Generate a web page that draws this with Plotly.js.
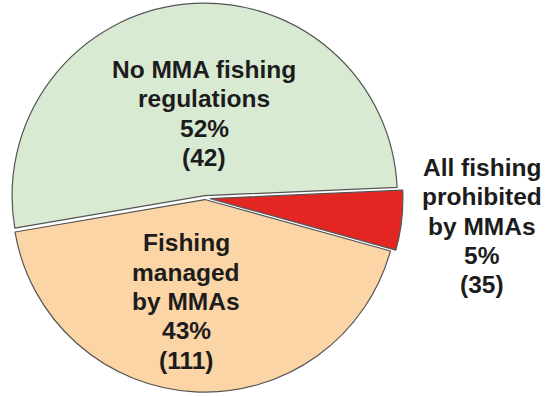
<!DOCTYPE html>
<html>
<head>
<meta charset="utf-8">
<script src="https://cdn.plot.ly/plotly-3.0.1.min.js"></script>
<style>html,body{margin:0;padding:0;background:#fff;}#chart{width:545px;height:396px;}</style>
</head>
<body>
<div id="chart"></div>
<script>
// Data
var categories = ["All fishing prohibited by MMAs", "Fishing managed by MMAs", "No MMA fishing regulations"];
var labelLines = [["All fishing", "prohibited", "by MMAs"], ["Fishing", "managed", "by MMAs"], ["No MMA fishing", "regulations"]];
var percents = [5, 43, 52];
var counts = [35, 111, 42];
var colors = ["#e32622", "#fbd5a6", "#d9ead3"];

// layout-only settings: label block centres (px), line spacing, pulls
var W = 545, H = 396;
var labelCenters = [[482, 226], [186, 301.5], [204, 113.5]];
var lineSpacing = 29.3;
var pulls = [0.028, 0.008, 0.012];

var trace = {
  type: "pie",
  labels: categories,
  values: percents,
  sort: false,
  direction: "clockwise",
  rotation: 87.5,
  pull: pulls,
  marker: {colors: colors, line: {color: "#555555", width: 1.2}},
  textinfo: "none",
  hoverinfo: "none",
  showlegend: false,
  domain: {x: [0, 0.752], y: [0, 1]}
};

var annotations = [];
categories.forEach(function(c, i) {
  var lines = labelLines[i].concat([percents[i] + "%", "(" + counts[i] + ")"]);
  var n = lines.length;
  lines.forEach(function(t, k) {
    var ypx = labelCenters[i][1] + (k - (n - 1) / 2) * lineSpacing;
    annotations.push({
      text: t, xref: "paper", yref: "paper",
      x: labelCenters[i][0] / W, y: 1 - ypx / H,
      xanchor: "center", yanchor: "middle", align: "center",
      showarrow: false,
      font: {family: "Liberation Sans, Arial, sans-serif", size: 24.5, color: "#1c1c1c", weight: "bold"}
    });
  });
});

Plotly.newPlot("chart", [trace], {
  width: W, height: H,
  margin: {l: 0, r: 0, t: 0, b: 0},
  paper_bgcolor: "#ffffff",
  annotations: annotations,
  font: {family: "Liberation Sans, Arial, sans-serif"}
}, {staticPlot: true});
</script>
</body>
</html>
